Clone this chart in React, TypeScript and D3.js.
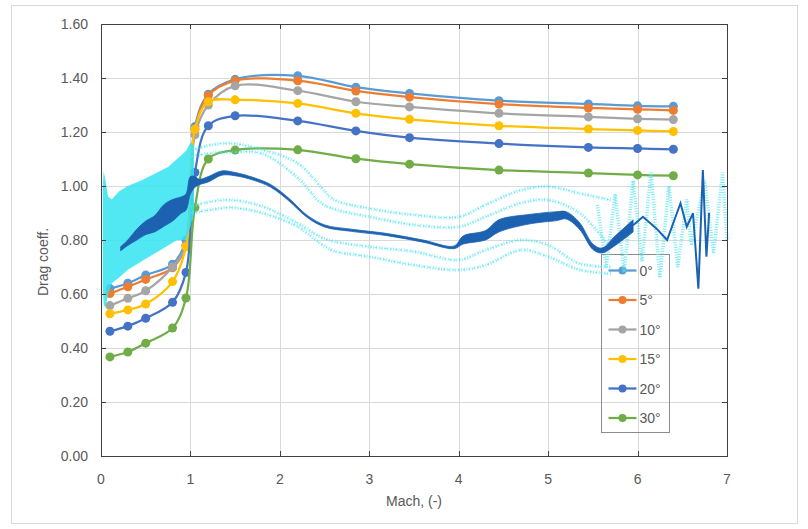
import { useEffect, useRef } from "react";
import * as d3 from "d3";

// Mach numbers of the computed points (marker series)
const machPts = [0.1, 0.3, 0.5, 0.8, 0.95, 1.05, 1.2, 1.5, 2.2, 2.85, 3.45, 4.45, 5.45, 6.0, 6.4];

const cd0 = [0.62, 0.64, 0.67, 0.71, 0.8, 1.22, 1.34, 1.395, 1.408, 1.366, 1.343, 1.316, 1.304, 1.297, 1.295];
const cd5 = [0.602, 0.627, 0.654, 0.697, 0.78, 1.21, 1.335, 1.39, 1.39, 1.352, 1.329, 1.303, 1.289, 1.284, 1.28];
const cd10 = [0.557, 0.584, 0.612, 0.7, 0.78, 1.19, 1.3, 1.371, 1.353, 1.312, 1.293, 1.269, 1.256, 1.249, 1.246];
const cd15 = [0.527, 0.541, 0.563, 0.646, 0.775, 1.21, 1.312, 1.319, 1.306, 1.269, 1.247, 1.223, 1.211, 1.206, 1.202];
const cd20 = [0.462, 0.481, 0.51, 0.569, 0.68, 1.05, 1.223, 1.26, 1.241, 1.204, 1.179, 1.157, 1.143, 1.139, 1.136];
const cd30 = [0.367, 0.385, 0.418, 0.474, 0.585, 0.92, 1.1, 1.133, 1.134, 1.101, 1.081, 1.059, 1.048, 1.041, 1.038];

const seriesNames = ["0°", "5°", "10°", "15°", "20°", "30°"];
const seriesColors = ["#5B9BD5", "#ED7D31", "#A5A5A5", "#FFC000", "#4472C4", "#70AD47"];
const seriesValues = [cd0, cd5, cd10, cd15, cd20, cd30];

// measured data, low-speed scatter cloud (mach, low, high)
const cloudMach = [0.02, 0.03, 0.05, 0.08, 0.12, 0.2, 0.3, 0.45, 0.6, 0.75, 0.85, 0.95, 1.0, 1.04];
const cloudLo = [0.62, 0.56, 0.55, 0.6, 0.64, 0.66, 0.69, 0.72, 0.75, 0.78, 0.8, 0.8, 0.85, 0.9];
const cloudHi = [1.0, 1.055, 1.02, 0.96, 0.95, 0.98, 1.0, 1.02, 1.045, 1.07, 1.1, 1.13, 1.16, 1.15];

// measured data, mean curve (mach, low, high of the noise band)
const meanMach = [0.22, 0.3, 0.4, 0.5, 0.6, 0.7, 0.8, 0.9, 0.95, 1.0, 1.05, 1.1, 1.2, 1.35, 1.5, 1.7, 1.9, 2.1, 2.3, 2.5, 2.8, 3.2, 3.6, 3.95, 4.05, 4.3, 4.45, 4.8, 5.1, 5.2, 5.35, 5.5, 5.6, 5.75, 5.95];
const meanLo = [0.76, 0.78, 0.8, 0.82, 0.83, 0.85, 0.87, 0.9, 0.91, 0.97, 0.995, 1.005, 1.015, 1.04, 1.038, 1.022, 0.995, 0.945, 0.885, 0.848, 0.832, 0.816, 0.792, 0.768, 0.785, 0.8, 0.83, 0.86, 0.872, 0.878, 0.84, 0.765, 0.752, 0.78, 0.83];
const meanHi = [0.775, 0.8, 0.84, 0.87, 0.89, 0.93, 0.95, 0.96, 0.97, 1.035, 1.035, 1.025, 1.035, 1.056, 1.05, 1.032, 1.005, 0.955, 0.893, 0.856, 0.84, 0.824, 0.8, 0.778, 0.815, 0.835, 0.875, 0.895, 0.905, 0.905, 0.865, 0.785, 0.77, 0.815, 0.875];
// unsteady tail of the mean curve
const tailMach = [5.95, 6.06, 6.21, 6.33, 6.48, 6.55, 6.62, 6.68, 6.73, 6.77, 6.8];
const tailCd = [0.855, 0.886, 0.843, 0.8, 0.936, 0.849, 0.899, 0.62, 1.059, 0.738, 0.9];

// measured data, scatter bounds
const bandMach = [1.0, 1.2, 1.45, 1.8, 2.2, 2.45, 2.6, 3.0, 3.5, 4.0, 4.3, 4.7, 5.0, 5.35, 5.7];
const upperA = [1.13, 1.15, 1.158, 1.135, 1.084, 1.0, 0.95, 0.917, 0.893, 0.886, 0.93, 0.985, 0.998, 0.973, 0.948];
const upperB = [1.11, 1.12, 1.125, 1.12, 1.03, 0.94, 0.915, 0.886, 0.856, 0.849, 0.886, 0.937, 0.948, 0.9, 0.77];
const lowerC = [0.923, 0.94, 0.948, 0.925, 0.862, 0.812, 0.795, 0.775, 0.757, 0.726, 0.763, 0.8, 0.781, 0.713, 0.7];
const lowerD = [0.9, 0.91, 0.92, 0.9, 0.849, 0.788, 0.76, 0.738, 0.707, 0.689, 0.707, 0.763, 0.738, 0.69, 0.675];
// unsteady tail of the scatter
const spikeMach = [5.55, 5.65, 5.75, 5.85, 5.95, 6.05, 6.15, 6.25, 6.35, 6.45, 6.55, 6.6, 6.75, 6.85, 6.95, 7.0];
const spikeCd = [0.93, 0.7, 0.97, 0.68, 1.02, 0.72, 1.05, 0.66, 1.0, 0.7, 0.95, 0.78, 1.02, 0.75, 1.05, 0.8];

const yTicks = [0, 0.2, 0.4, 0.6, 0.8, 1.0, 1.2, 1.4, 1.6];
const xTicks = [0, 1, 2, 3, 4, 5, 6, 7];

export default function App() {
    const svgRef = useRef<SVGSVGElement>(null);
    const width = 808;
    const height = 529;
    const margin = { top: 24, right: 81, bottom: 73, left: 101 };

    useEffect(() => {
        const svg = d3.select(svgRef.current);
        svg.selectAll("*").remove();
        const font = "'Liberation Sans', Arial, sans-serif";
        const txt = "#595959";

        const x = d3.scaleLinear().domain([0, 7]).range([margin.left, width - margin.right]);
        const y = d3.scaleLinear().domain([0, 1.6]).range([height - margin.bottom, margin.top]);
        const [x0, x1] = x.range();
        const [y0, y1] = y.range();

        svg.append("rect")
            .attr("x", 11.5).attr("y", 5.5)
            .attr("width", 786).attr("height", 518)
            .attr("fill", "#fff").attr("stroke", "#D9D9D9");

        // gridlines
        svg.append("g").selectAll("line").data(yTicks).join("line")
            .attr("x1", x0).attr("x2", x1)
            .attr("y1", d => Math.round(y(d)) + 0.5).attr("y2", d => Math.round(y(d)) + 0.5)
            .attr("stroke", "#D9D9D9");
        svg.append("g").selectAll("line").data(xTicks).join("line")
            .attr("y1", y0).attr("y2", y1)
            .attr("x1", d => Math.round(x(d)) + 0.5).attr("x2", d => Math.round(x(d)) + 0.5)
            .attr("stroke", "#D9D9D9");

        // legend (transparent box)
        const lg = svg.append("g").attr("transform", "translate(601.5,254.5)");
        lg.append("rect").attr("width", 68).attr("height", 178)
            .attr("fill", "none").attr("stroke", "#8C8C8C");
        seriesNames.forEach((name, i) => {
            const ly = 16 + i * 29.5;
            lg.append("line").attr("x1", 7).attr("x2", 35).attr("y1", ly).attr("y2", ly)
                .attr("stroke", seriesColors[i]).attr("stroke-width", 2.25);
            lg.append("circle").attr("cx", 21).attr("cy", ly).attr("r", 4)
                .attr("fill", seriesColors[i]);
            lg.append("text").attr("x", 38).attr("y", ly + 5)
                .attr("font-family", font).attr("font-size", 14).attr("fill", txt)
                .text(name);
        });

        // computed series
        const line = d3.line<number>()
            .x((_, i) => x(machPts[i]))
            .y(d => y(d))
            .curve(d3.curveCatmullRom.alpha(0.5));
        seriesValues.forEach((vals, k) => {
            const g = svg.append("g");
            g.append("path").attr("d", line(vals)).attr("fill", "none")
                .attr("stroke", seriesColors[k]).attr("stroke-width", 2.25);
            g.selectAll("circle").data(vals).join("circle")
                .attr("cx", (_, i) => x(machPts[i])).attr("cy", d => y(d))
                .attr("r", 4.5).attr("fill", seriesColors[k]);
        });

        // measured scatter
        const cyan = "#4FE4F2";
        const cloud = d3.area<number>()
            .x((_, i) => x(cloudMach[i]))
            .y0(d => y(d)).y1((_, i) => y(cloudHi[i]))
            .curve(d3.curveLinear);
        svg.append("path").attr("d", cloud(cloudLo)).attr("fill", "#33E3F1").attr("opacity", 0.85);

        const bandLine = d3.line<number>()
            .x((_, i) => x(bandMach[i])).y(d => y(d))
            .curve(d3.curveCatmullRom.alpha(0.5));
        [upperA, upperB, lowerC, lowerD].forEach(vals => {
            svg.append("path").attr("d", bandLine(vals)).attr("fill", "none")
                .attr("stroke", cyan).attr("stroke-width", 3.5)
                .attr("stroke-dasharray", "1 1.8").attr("opacity", 0.6);
            svg.append("path").attr("d", bandLine(vals)).attr("fill", "none")
                .attr("stroke", cyan).attr("stroke-width", 1)
                .attr("stroke-dasharray", "2 3").attr("opacity", 0.8);
        });
        const spike = d3.line<number>().x((_, i) => x(spikeMach[i])).y(d => y(d));
        svg.append("path").attr("d", spike(spikeCd)).attr("fill", "none")
            .attr("stroke", cyan).attr("stroke-width", 3.5)
            .attr("stroke-dasharray", "1 1.5").attr("opacity", 0.75);

        // measured mean
        const blue = "#1C62B0";
        const meanArea = d3.area<number>()
            .x((_, i) => x(meanMach[i]))
            .y0(d => y(d)).y1((_, i) => y(meanHi[i]))
            .curve(d3.curveCatmullRom.alpha(0.5));
        svg.append("path").attr("d", meanArea(meanLo)).attr("fill", blue)
            .attr("stroke", blue).attr("stroke-width", 0.8);
        const tail = d3.line<number>().x((_, i) => x(tailMach[i])).y(d => y(d));
        svg.append("path").attr("d", tail(tailCd)).attr("fill", "none")
            .attr("stroke", blue).attr("stroke-width", 2);

        // frame with inner ticks
        const ax = "#404040";
        svg.append("rect").attr("x", x0 + 0.5).attr("y", y1 + 0.5)
            .attr("width", x1 - x0).attr("height", y0 - y1)
            .attr("fill", "none").attr("stroke", ax);
        const tk = svg.append("g").attr("stroke", ax);
        yTicks.forEach(t => {
            const ty = Math.round(y(t)) + 0.5;
            tk.append("line").attr("x1", x0).attr("x2", x0 + 5).attr("y1", ty).attr("y2", ty);
            tk.append("line").attr("x1", x1 - 5).attr("x2", x1).attr("y1", ty).attr("y2", ty);
        });
        xTicks.forEach(t => {
            const tx = Math.round(x(t)) + 0.5;
            tk.append("line").attr("y1", y0).attr("y2", y0 - 5).attr("x1", tx).attr("x2", tx);
            tk.append("line").attr("y1", y1).attr("y2", y1 + 5).attr("x1", tx).attr("x2", tx);
        });

        // tick labels
        svg.append("g").selectAll("text").data(yTicks).join("text")
            .attr("x", x0 - 13).attr("y", d => y(d) + 5)
            .attr("text-anchor", "end").attr("font-family", font)
            .attr("font-size", 14).attr("fill", txt)
            .text(d => d3.format(".2f")(d));
        svg.append("g").selectAll("text").data(xTicks).join("text")
            .attr("x", d => x(d)).attr("y", y0 + 28)
            .attr("text-anchor", "middle").attr("font-family", font)
            .attr("font-size", 14).attr("fill", txt)
            .text(d => d);

        // axis titles
        svg.append("text").attr("x", (x0 + x1) / 2).attr("y", y0 + 50)
            .attr("text-anchor", "middle").attr("font-family", font)
            .attr("font-size", 14).attr("fill", txt).text("Mach, (-)");
        svg.append("text").attr("transform", `translate(48,${(y0 + y1) / 2 + 22}) rotate(-90)`)
            .attr("text-anchor", "middle").attr("font-family", font)
            .attr("font-size", 14).attr("fill", txt).text("Drag coeff.");
    }, []);

    return (
        <svg
            ref={svgRef}
            width={width}
            height={height}
            style={{ position: "absolute", left: 0, top: 0, background: "#fff" }}
        />
    );
}
